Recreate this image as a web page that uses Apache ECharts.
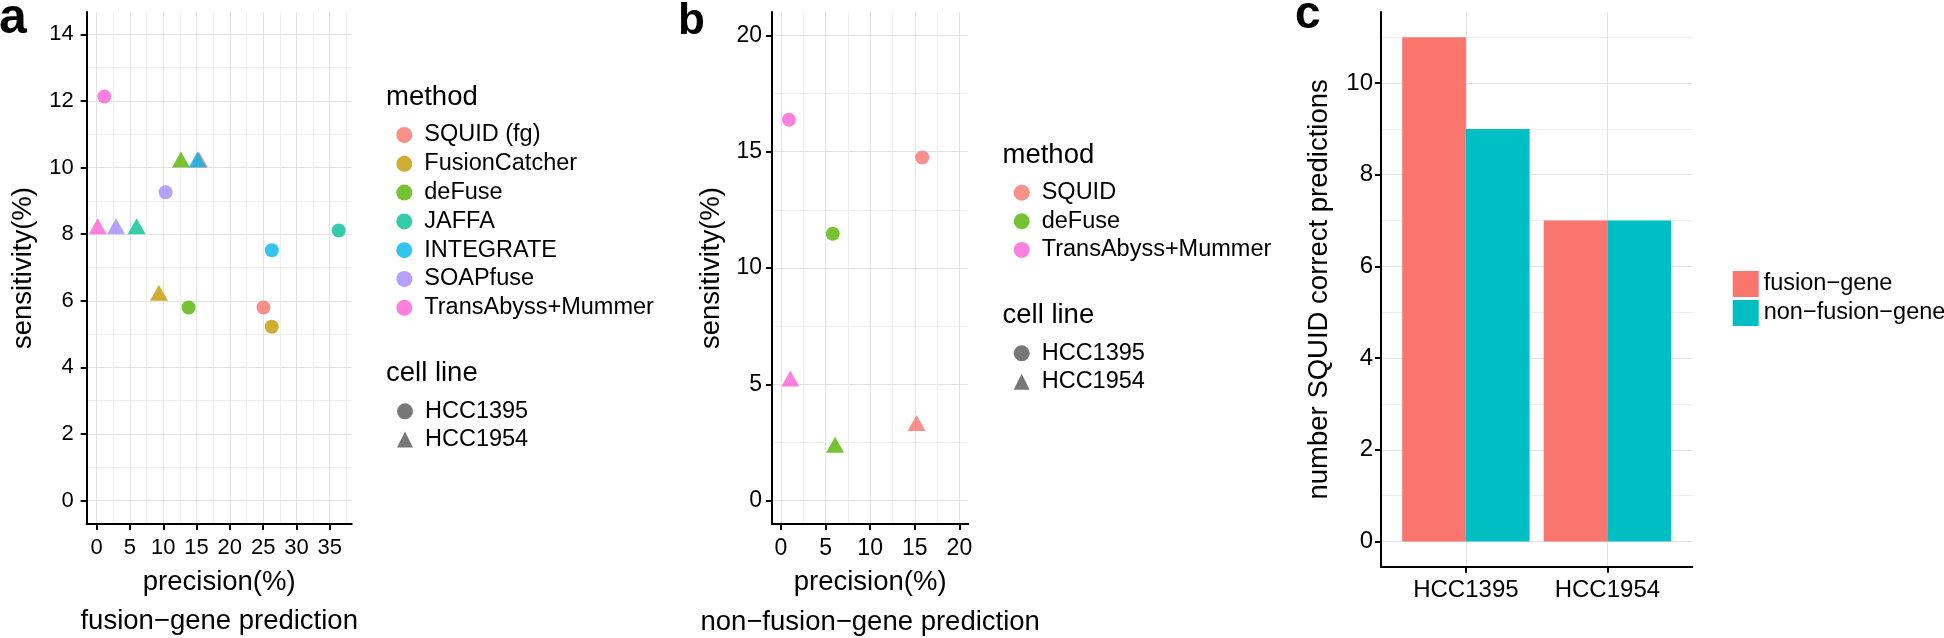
<!DOCTYPE html>
<html><head><meta charset="utf-8">
<script src="https://cdn.jsdelivr.net/npm/echarts@6/dist/echarts.min.js"></script>
<style>html,body{margin:0;padding:0;background:#fff}#c{width:1944px;height:638px}</style>
</head><body><div id="c"></div>
<script>
// ---------- data ----------
const methodsA = ['SQUID (fg)', 'FusionCatcher', 'deFuse', 'JAFFA', 'INTEGRATE', 'SOAPfuse', 'TransAbyss+Mummer'];
const colorsA = ['#F8766D', '#C49A00', '#53B400', '#00C094', '#00B6EB', '#A58AFF', '#FB61D7'];
const precisionA_HCC1395 = [25.05, 26.3, 13.8, 36.35, 26.3, 10.35, 1.14];
const sensitivityA_HCC1395 = [5.8, 5.22, 5.8, 8.11, 7.52, 9.26, 12.13];
const precisionA_HCC1954 = [15.35, 9.35, 12.65, 6.0, 15.15, 2.9, 0.15];
const sensitivityA_HCC1954 = [10.16, 6.16, 10.16, 8.16, 10.16, 8.16, 8.16];

const methodsB = ['SQUID', 'deFuse', 'TransAbyss+Mummer'];
const colorsB = ['#F8766D', '#53B400', '#FB61D7'];
const precisionB_HCC1395 = [15.84, 5.81, 0.9];
const sensitivityB_HCC1395 = [14.75, 11.47, 16.37];
const precisionB_HCC1954 = [15.2, 6.07, 1.05];
const sensitivityB_HCC1954 = [3.22, 2.29, 5.14];

const cellLines = ['HCC1395', 'HCC1954'];
const fusionGene = [11, 7];
const nonFusionGene = [9, 7];
const barNames = ['fusion\u2212gene', 'non\u2212fusion\u2212gene'];

// tick values
const xTicksA = [0, 5, 10, 15, 20, 25, 30, 35];
const xMinorA = [2.5, 7.5, 12.5, 17.5, 22.5, 27.5, 32.5, 37.5];
const yTicksA = [0, 2, 4, 6, 8, 10, 12, 14];
const yMinorA = [1, 3, 5, 7, 9, 11, 13];
const xTicksB = [0, 5, 10, 15, 20];
const xMinorB = [2.5, 7.5, 12.5, 17.5];
const yTicksB = [0, 5, 10, 15, 20];
const yMinorB = [2.5, 7.5, 12.5, 17.5];
const xTicksC = [1, 2];
const yTicksC = [0, 2, 4, 6, 8, 10];
const yMinorC = [1, 3, 5, 7, 9, 11];

// ---------- style helpers ----------
const FONT = "'Liberation Sans', Arial, Helvetica, sans-serif";
const MAJOR = '#e3e3e3', MINOR = '#efefef';
function majorAxis(o) {
  return {
    type: 'value', gridIndex: o.grid, min: o.min, max: o.max, position: o.pos,
    name: o.name || '', nameLocation: 'middle', nameGap: o.nameGap || 0, nameMoveOverlap: false,
    nameTextStyle: { fontSize: o.nameSize || 27.5, fontFamily: FONT, color: '#000', lineHeight: o.nameLH || undefined },
    axisLine: { show: true, onZero: false, lineStyle: { color: '#000', width: 2 } },
    axisTick: { show: true, length: 6, lineStyle: { color: '#000', width: 2 }, customValues: o.ticks },
    axisLabel: { show: true, customValues: o.ticks, fontSize: o.labelSize || 22, fontFamily: FONT, color: '#000',
                 margin: o.margin, formatter: o.formatter },
    splitLine: { show: true, lineStyle: { color: MAJOR, width: 1 } },
    minorTick: { show: false }, minorSplitLine: { show: false }
  };
}
function minorAxis(o) {
  return {
    type: 'value', gridIndex: o.grid, min: o.min, max: o.max, position: o.pos, offset: 0,
    axisLine: { show: false, onZero: false }, axisTick: { show: false, customValues: o.ticks },
    axisLabel: { show: false, customValues: o.ticks },
    splitLine: { show: true, lineStyle: { color: MINOR, width: 1 } }
  };
}

// ---------- series ----------
const series = [];
function scatterPanel(methods, colors, px1, sy1, px2, sy2, xi, yi) {
  methods.forEach((m, i) => {
    series.push({
      type: 'scatter', name: m, xAxisIndex: xi, yAxisIndex: yi, animation: false,
      itemStyle: { color: colors[i], opacity: 0.8 },
      data: [
        { value: [px1[i], sy1[i]], symbol: 'circle', symbolSize: 14 },
        { value: [px2[i], sy2[i]], symbol: 'triangle', symbolSize: [18, 16], symbolOffset: [0, -2.7] }
      ]
    });
  });
}
scatterPanel(methodsA, colorsA, precisionA_HCC1395, sensitivityA_HCC1395, precisionA_HCC1954, sensitivityA_HCC1954, 0, 0);
scatterPanel(methodsB, colorsB, precisionB_HCC1395, sensitivityB_HCC1395, precisionB_HCC1954, sensitivityB_HCC1954, 2, 2);
// dummy series for the "cell line" legends
series.push({ type: 'scatter', name: cellLines[0], xAxisIndex: 0, yAxisIndex: 0, data: [], symbol: 'circle', itemStyle: { color: '#555' } });
series.push({ type: 'scatter', name: cellLines[1], xAxisIndex: 0, yAxisIndex: 0, data: [], symbol: 'triangle', itemStyle: { color: '#555' } });
// bars (panel c)
[fusionGene, nonFusionGene].forEach((vals, k) => {
  series.push({
    type: 'bar', name: barNames[k], xAxisIndex: 4, yAxisIndex: 4, animation: false,
    barWidth: 63.7, barGap: '0%',
    itemStyle: { color: k === 0 ? '#F8766D' : '#00BFC4' },
    data: vals.map((v, i) => [i + 1, v])
  });
});

// ---------- legends ----------
function legendCfg(names, icons, left, top, gap) {
  return {
    orient: 'vertical', left: left, top: top, itemWidth: 16, itemHeight: 16, itemGap: 0,
    selectedMode: false,
    data: names.map((n, i) => ({ name: n, icon: icons[i] })),
    textStyle: { fontSize: 23.5, fontFamily: FONT, color: '#000', lineHeight: gap, padding: [0, 0, 0, 7] }
  };
}
const legends = [
  legendCfg(methodsA, methodsA.map(() => 'circle'), 391.3, 115.6, 28.8),
  legendCfg(cellLines, ['circle', 'triangle'], 392, 392.2, 28.2),
  legendCfg(methodsB, methodsB.map(() => 'circle'), 1008.7, 173.4, 28.6),
  legendCfg(cellLines, ['circle', 'triangle'], 1008.7, 334.1, 28.4),
  {
    orient: 'vertical', left: 1727.7, top: 266, itemWidth: 26, itemHeight: 26, itemGap: 3,
    selectedMode: false, data: barNames.map(n => ({ name: n, icon: 'rect' })),
    textStyle: { fontSize: 23.5, fontFamily: FONT, color: '#000' }
  }
];

function txt(t, x, y, size, weight) {
  return { type: 'text', x: x, y: y, silent: true,
    style: { text: t, fontSize: size, fontWeight: weight || 'normal', fontFamily: FONT, fill: '#000',
             align: 'left', verticalAlign: 'middle' } };
}

const option = {
  animation: false,
  backgroundColor: '#fff',
  grid: [
    { left: 86.7, top: 12, width: 265, height: 512, outerBoundsMode: 'none', containLabel: false },
    { left: 772, top: 12, width: 196.3, height: 512, outerBoundsMode: 'none', containLabel: false },
    { left: 1381, top: 12, width: 311.3, height: 554.7, outerBoundsMode: 'none', containLabel: false }
  ],
  xAxis: [
    majorAxis({ grid: 0, min: -1.5, max: 38.3, pos: 'bottom', ticks: xTicksA, margin: 13,
      name: 'precision(%)\nfusion\u2212gene prediction', nameGap: 39, nameLH: 39 }),
    minorAxis({ grid: 0, min: -1.5, max: 38.3, pos: 'bottom', ticks: xMinorA }),
    majorAxis({ grid: 1, min: -1, max: 21, pos: 'bottom', ticks: xTicksB, margin: 13, labelSize: 23,
      name: 'precision(%)\nnon\u2212fusion\u2212gene prediction', nameGap: 38, nameLH: 40 }),
    minorAxis({ grid: 1, min: -1, max: 21, pos: 'bottom', ticks: xMinorB }),
    majorAxis({ grid: 2, min: 0.4, max: 2.6, pos: 'bottom', ticks: xTicksC, margin: 12, labelSize: 24,
      formatter: v => cellLines[Math.round(v) - 1] })
  ],
  yAxis: [
    majorAxis({ grid: 0, min: -0.7, max: 14.67, pos: 'left', ticks: yTicksA, margin: 13,
      name: 'sensitivity(%)', nameGap: 49 }),
    minorAxis({ grid: 0, min: -0.7, max: 14.67, pos: 'left', ticks: yMinorA }),
    majorAxis({ grid: 1, min: -1, max: 21, pos: 'left', ticks: yTicksB, margin: 10, labelSize: 23,
      name: 'sensitivity(%)', nameGap: 47 }),
    minorAxis({ grid: 1, min: -1, max: 21, pos: 'left', ticks: yMinorB }),
    majorAxis({ grid: 2, min: -0.55, max: 11.55, pos: 'left', ticks: yTicksC, margin: 8, labelSize: 24,
      name: 'number SQUID correct predictions', nameGap: 48, nameSize: 27.5 }),
    minorAxis({ grid: 2, min: -0.55, max: 11.55, pos: 'left', ticks: yMinorC })
  ],
  legend: legends,
  graphic: [
    txt('a', -1, 19.5, 50, 'bold'),
    txt('b', 678, 21.5, 44, 'bold'),
    txt('c', 1295, 15.6, 46, 'bold'),
    txt('method', 386, 97.6, 27.5),
    txt('cell line', 386, 373.2, 27.5),
    txt('method', 1002.5, 155.9, 27.5),
    txt('cell line', 1002.5, 315.9, 27.5)
  ],
  series: series
};
const chart = echarts.init(document.getElementById('c'), null, { renderer: 'canvas' });
chart.setOption(option);
</script>
</body></html>
